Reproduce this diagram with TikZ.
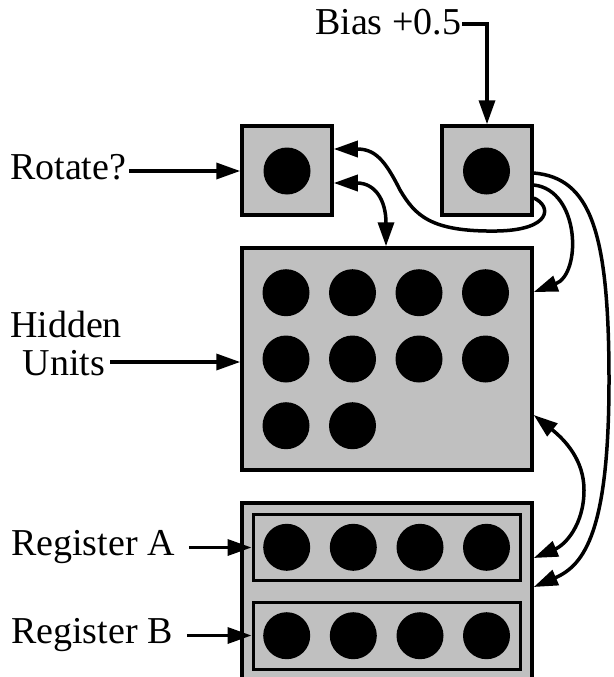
\documentclass[tikz,border=0pt]{standalone}
\usepackage{fontspec}
\setmainfont{Liberation Serif}
\usetikzlibrary{arrows.meta}
\definecolor{boxgray}{RGB}{192,192,192}
\begin{document}
\begin{tikzpicture}[x=1pt,y=-1pt,
  box/.style={draw=black, line width=3.5pt, fill=boxgray, inner sep=0pt},
  unit/.style={circle, fill=black, minimum size=47pt, inner sep=0pt},
  lbl/.style={font=\fontsize{38}{40}\selectfont, inner sep=0pt},
  arr/.style={line width=3.5pt, -{Triangle[length=24pt,width=16pt]}},
  darr/.style={line width=3.5pt, {Triangle[length=24pt,width=16pt]}-{Triangle[length=24pt,width=16pt]}}]
\clip (0,0) rectangle (613,677);
% boxes
\node[box, minimum width=90pt, minimum height=89pt] (rot) at (287,170.5) {};
\node[box, minimum width=90pt, minimum height=89pt] (bias) at (487,170.5) {};
\node[unit] (rotu) at (287,171) {};
\node[unit] (biasu) at (486.5,171) {};
\node[box, minimum width=290pt, minimum height=222pt] (hid) at (387,359) {};
\node[unit] (h1) at (286,292.7) {};
\node[unit] (h2) at (352.5,292.7) {};
\node[unit] (h3) at (419,292.7) {};
\node[unit] (h4) at (485.5,292.7) {};
\node[unit] (h5) at (286,359) {};
\node[unit] (h6) at (352.5,359) {};
\node[unit] (h7) at (419,359) {};
\node[unit] (h8) at (485.5,359) {};
\node[unit] (h9) at (286,425.7) {};
\node[unit] (h10) at (352.5,425.7) {};
\node[box, minimum width=290pt, minimum height=190pt] (reg) at (387,598) {};
\node[box, line width=3pt, minimum width=267pt, minimum height=66.5pt] (rega) at (386.5,547.5) {};
\node[box, line width=3pt, minimum width=267pt, minimum height=66.5pt] (regb) at (386.5,636) {};
\node[unit] (a1) at (286.7,547.3) {};
\node[unit] (a2) at (353.3,547.3) {};
\node[unit] (a3) at (420,547.3) {};
\node[unit] (a4) at (486.5,547.3) {};
\node[unit] (b1) at (286.7,635.7) {};
\node[unit] (b2) at (353.3,635.7) {};
\node[unit] (b3) at (420,635.7) {};
\node[unit] (b4) at (486.5,635.7) {};
% labels
\node[lbl, anchor=base west] (biaslbl) at (315,35) {Bias +0.5};
\node[lbl, anchor=base west] (rotlbl) at (10,179) {Rotate?};
\node[lbl, anchor=base] (hidlbl1) at (66,337) {Hidden};
\node[lbl, anchor=base] (hidlbl2) at (64,375) {Units};
\node[lbl, anchor=base west] (regalbl) at (11,555) {Register A};
\node[lbl, anchor=base west] (regblbl) at (11,643) {Register B};
% input arrows
\draw[arr, shorten <=1pt] ([yshift=11pt]biaslbl.base east) -| (bias.north);
\draw[arr, shorten <=3pt] ([yshift=8pt]rotlbl.base east) -- ([yshift=8pt]rotlbl.base east -| rot.west);
\draw[arr, shorten <=5pt] ([yshift=13pt]hidlbl2.base east) -- ([yshift=13pt]hidlbl2.base east -| hid.west);
\draw[arr, shorten <=14pt] ([yshift=7.5pt]regalbl.base east) -- ([yshift=7.5pt]regalbl.base east -| rega.west);
\draw[arr, shorten <=14pt] ([yshift=7.5pt]regblbl.base east) -- ([yshift=7.5pt]regblbl.base east -| regb.west);
% curved connectors
\draw[arr] ([yshift=-27.5pt]bias.east) .. controls (552,206) and (552,230) .. (497,231)
  .. controls (430,232) and (415,215) .. (400,190)
  .. controls (385,160) and (375,149) .. ([yshift=21.5pt]rot.east);
\draw[darr] ([yshift=-12.5pt]rot.east) .. controls (375,183) and (386,200) .. ([xshift=-1pt]hid.north);
\draw[arr] ([yshift=-14.5pt]bias.east) .. controls (580,190) and (582,274) .. ([yshift=67pt]hid.east);
\draw[arr] ([yshift=-2.5pt]bias.east) .. controls (590,178) and (609,230) .. (609,380)
  .. controls (609,530) and (585,565) .. ([yshift=11pt]reg.east);
\draw[darr] ([yshift=-56pt]hid.east) .. controls (565,440) and (584,460) .. (584,490)
  .. controls (584,525) and (565,545) .. ([yshift=40pt]reg.east);
\end{tikzpicture}
\end{document}
